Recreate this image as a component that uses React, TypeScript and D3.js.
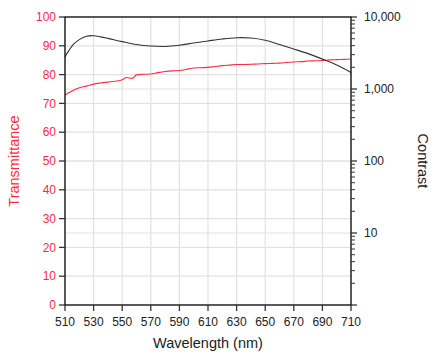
import { useEffect, useRef } from 'react'
import * as d3 from 'd3'

const W = 440, H = 360
const M = { left: 65, right: 89, top: 17, bottom: 55 }

// transmittance (%), left axis
const transWl = [510, 515, 520, 525, 530, 535, 540, 545, 550, 553, 557, 560, 565, 570, 575, 580, 585, 590, 595, 600, 605, 610, 615, 620, 625, 630, 635, 640, 645, 650, 655, 660, 665, 670, 675, 680, 685, 690, 695, 700, 705, 710]
const transVal = [72.9, 74.3, 75.4, 76.0, 76.7, 77.1, 77.4, 77.7, 78.2, 79.0, 78.7, 79.9, 80.1, 80.2, 80.7, 81.1, 81.3, 81.4, 81.8, 82.3, 82.4, 82.5, 82.8, 83.1, 83.3, 83.5, 83.5, 83.6, 83.7, 83.8, 83.9, 84.0, 84.2, 84.4, 84.5, 84.7, 84.8, 84.9, 85.1, 85.2, 85.3, 85.4]

// contrast ratio, right log axis
const contrastWl = [510, 513, 516, 520, 525, 530, 535, 540, 550, 560, 570, 580, 590, 600, 610, 620, 630, 640, 650, 660, 670, 680, 690, 700, 710]
const contrastVal = [2800, 3500, 4200, 4850, 5400, 5500, 5300, 5050, 4550, 4150, 3950, 3900, 4050, 4350, 4650, 4950, 5150, 5100, 4750, 4150, 3600, 3100, 2600, 2150, 1700]

const xTicks = [510, 530, 550, 570, 590, 610, 630, 650, 670, 690, 710]
const yTicks = [0, 10, 20, 30, 40, 50, 60, 70, 80, 90, 100]
const logTicks = [1, 10, 100, 1000, 10000]

const RED = '#ff2a45'
const FONT = 'Liberation Sans, Arial, sans-serif'

export default function App() {
  const svgRef = useRef<SVGSVGElement>(null)

  useEffect(() => {
    document.body.style.margin = '0'
    const x = d3.scaleLinear([510, 710], [M.left, W - M.right])
    const y = d3.scaleLinear([0, 100], [H - M.bottom, M.top])
    const yR = d3.scaleLog([1, 10000], [H - M.bottom, M.top])
    const x0 = M.left, x1 = W - M.right, y0 = H - M.bottom, y1 = M.top

    const svg = d3.select(svgRef.current)
    svg.selectAll('*').remove()
    svg.style('font-family', FONT)

    // grid
    const grid = svg.append('g').attr('stroke', '#e2e2e2').attr('stroke-width', 1.2)
    xTicks.slice(1, -1).forEach(t => {
      grid.append('line').attr('x1', x(t)).attr('x2', x(t)).attr('y1', y1).attr('y2', y0)
    })
    yTicks.slice(1, -1).forEach(t => {
      grid.append('line').attr('x1', x0).attr('x2', x1).attr('y1', y(t)).attr('y2', y(t))
    })
    logTicks.slice(1, -1).forEach(t => {
      grid.append('line').attr('x1', x0).attr('x2', x1).attr('y1', yR(t)).attr('y2', yR(t))
    })

    // curves
    const trans = transWl.map((w, i) => [w, transVal[i]] as [number, number])
    const contrast = contrastWl.map((w, i) => [w, contrastVal[i]] as [number, number])

    svg.append('path')
      .attr('d', d3.line<[number, number]>().x(d => x(d[0])).y(d => y(d[1])).curve(d3.curveMonotoneX)(trans))
      .attr('fill', 'none').attr('stroke', RED).attr('stroke-width', 1.1)

    svg.append('path')
      .attr('d', d3.line<[number, number]>().x(d => x(d[0])).y(d => yR(d[1])).curve(d3.curveCatmullRom)(contrast))
      .attr('fill', 'none').attr('stroke', '#333').attr('stroke-width', 1.1)

    // frame
    svg.append('rect').attr('x', x0).attr('y', y1).attr('width', x1 - x0).attr('height', y0 - y1)
      .attr('fill', 'none').attr('stroke', '#000').attr('stroke-width', 1.3)

    // left axis
    const left = svg.append('g')
    yTicks.forEach(t => {
      left.append('line').attr('x1', x0 - 6).attr('x2', x0).attr('y1', y(t)).attr('y2', y(t)).attr('stroke', '#333').attr('stroke-width', 1.3)
      left.append('text').attr('x', x0 - 9).attr('y', y(t)).attr('dy', '0.35em')
        .attr('text-anchor', 'end').attr('font-size', 12).attr('fill', RED).text(t)
    })

    // bottom axis
    const bottom = svg.append('g')
    xTicks.forEach(t => {
      bottom.append('line').attr('x1', x(t)).attr('x2', x(t)).attr('y1', y0).attr('y2', y0 + 6).attr('stroke', '#333').attr('stroke-width', 1.3)
      bottom.append('text').attr('x', x(t)).attr('y', y0 + 21)
        .attr('text-anchor', 'middle').attr('font-size', 12).attr('fill', '#222').text(t)
    })

    // right log axis with minor ticks
    const right = svg.append('g')
    const fmt = d3.format(',')
    logTicks.forEach((t, i) => {
      right.append('line').attr('x1', x1).attr('x2', x1 + 6).attr('y1', yR(t)).attr('y2', yR(t)).attr('stroke', '#333').attr('stroke-width', 1.3)
      if (i > 0) {
        right.append('text').attr('x', x1 + 13).attr('y', yR(t)).attr('dy', '0.35em')
          .attr('font-size', 12).attr('fill', '#222').text(fmt(t))
      }
      if (t < 10000) {
        d3.range(2, 10).forEach(k => {
          right.append('line').attr('x1', x1).attr('x2', x1 + 4).attr('y1', yR(t * k)).attr('y2', yR(t * k))
            .attr('stroke', '#333').attr('stroke-width', 1)
        })
      }
    })

    // titles
    const cy = (y0 + y1) / 2
    svg.append('text').attr('x', (x0 + x1) / 2).attr('y', 348).attr('text-anchor', 'middle')
      .attr('font-size', 14.5).attr('fill', '#222').text('Wavelength (nm)')
    svg.append('text').attr('transform', `translate(19,${cy}) rotate(-90)`).attr('text-anchor', 'middle')
      .attr('font-size', 14.5).attr('fill', RED).text('Transmittance')
    svg.append('text').attr('transform', `translate(418,${cy}) rotate(90)`).attr('text-anchor', 'middle')
      .attr('font-size', 14.5).attr('fill', '#222').text('Contrast')
  }, [])

  return <svg ref={svgRef} width={W} height={H} viewBox={`0 0 ${W} ${H}`} style={{ display: 'block', background: '#fff' }} />
}
